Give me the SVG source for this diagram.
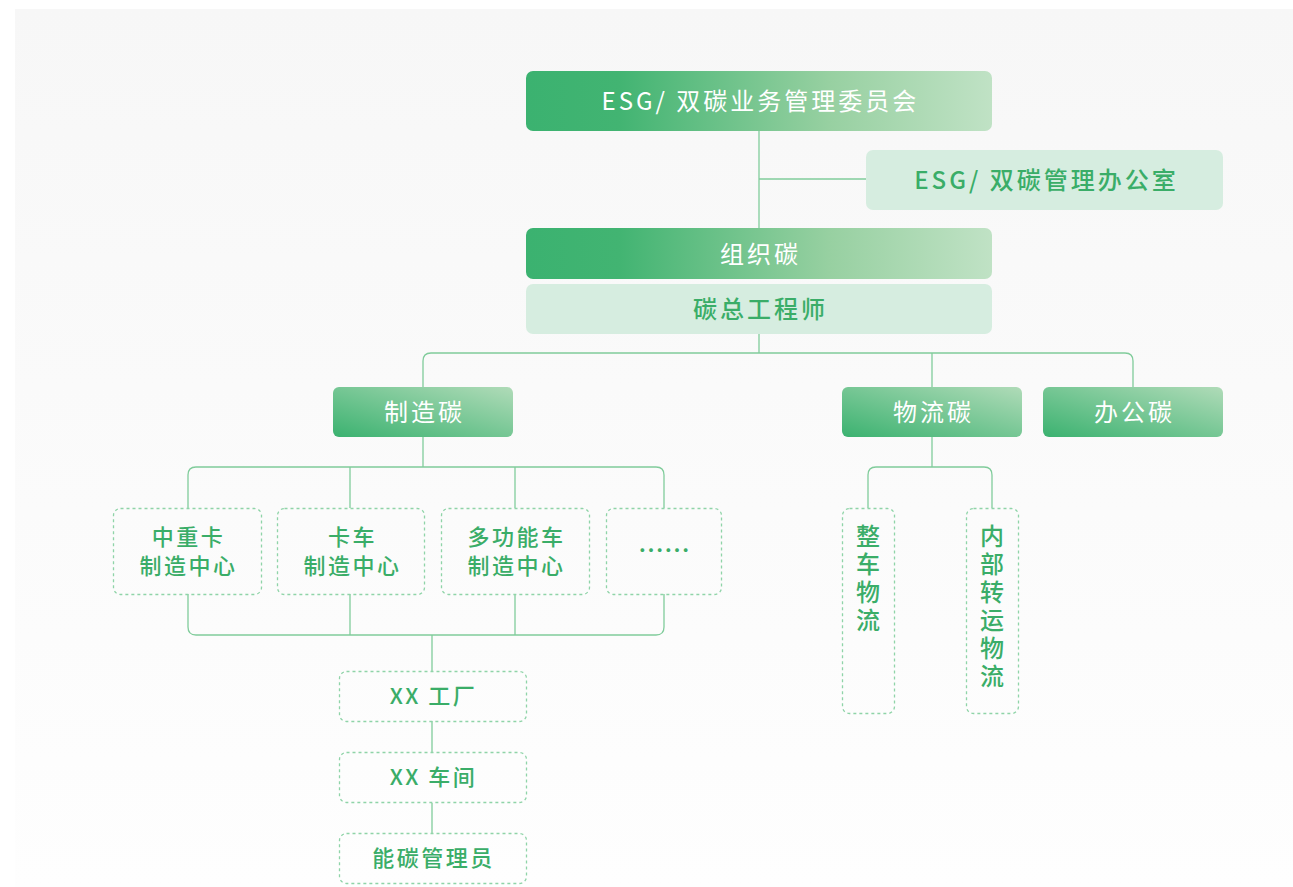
<svg xmlns="http://www.w3.org/2000/svg" width="1293" height="887" viewBox="0 0 1293 887">
<defs>
<linearGradient id="bg" x1="0" y1="0" x2="0" y2="1">
<stop offset="0" stop-color="#f7f7f7"/>
<stop offset="1" stop-color="#fefefe"/>
</linearGradient>
<linearGradient id="gWide" x1="0" y1="0" x2="1" y2="0">
<stop offset="0" stop-color="#3bb270"/>
<stop offset="0.2" stop-color="#42b472"/>
<stop offset="0.65" stop-color="#97d0a1"/>
<stop offset="1" stop-color="#c0e2c5"/>
</linearGradient>
<linearGradient id="gSmall" x1="0" y1="1" x2="1" y2="0">
<stop offset="0" stop-color="#3bb270"/>
<stop offset="1" stop-color="#b0dbb8"/>
</linearGradient>
<style>
.t{font-family:"Noto Sans CJK SC","Noto Sans",sans-serif;dominant-baseline:central;text-anchor:middle}
.w{fill:#ffffff;font-size:24px;letter-spacing:3px}
.g{fill:#3aad68;font-size:24px;letter-spacing:3px;font-weight:500}
.d{fill:#3aad68;font-size:22px;letter-spacing:2.5px;font-weight:500}
.v{font-family:"Noto Sans CJK SC","Noto Sans",sans-serif;fill:#3aad68;font-size:24px;font-weight:500;writing-mode:vertical-rl;text-orientation:upright;letter-spacing:4px;dominant-baseline:central;text-anchor:start}
.light{fill:#d6ede0}
.dash{fill:none;stroke:#8fd4a8;stroke-width:1.3;stroke-dasharray:3 3}
.c{fill:none;stroke:#80cc9b;stroke-width:1.3}
</style>
</defs>
<rect x="15" y="9" width="1278" height="878" fill="url(#bg)"/>

<g id="connectors">
<path class="c" d="M759 131 V228"/>
<path class="c" d="M759 179 H866"/>
<path class="c" d="M759 334 V353"/>
<path class="c" d="M423 387 V361 Q423 353 431 353 H1125 Q1133 353 1133 361 V387"/>
<path class="c" d="M932 353 V387"/>
<path class="c" d="M423 437 V467"/>
<path class="c" d="M188 508 V475 Q188 467 196 467 H656 Q664 467 664 475 V508"/>
<path class="c" d="M350 467 V508"/>
<path class="c" d="M515 467 V508"/>
<path class="c" d="M188 594 V627 Q188 635 196 635 H656 Q664 635 664 627 V594"/>
<path class="c" d="M350 594 V635"/>
<path class="c" d="M515 594 V635"/>
<path class="c" d="M432 635 V671"/>
<path class="c" d="M432 721 V752"/>
<path class="c" d="M432 803 V833"/>
<path class="c" d="M932 437 V467"/>
<path class="c" d="M868 508 V475 Q868 467 876 467 H984 Q992 467 992 475 V508"/>
</g>

<g id="n-committee">
<rect x="526" y="71" width="466" height="60" rx="7" fill="url(#gWide)"/>
<text class="t w" x="760.5" y="99">ESG/ 双碳业务管理委员会</text>
</g>
<g id="n-office">
<rect class="light" x="866" y="150" width="357" height="60" rx="7"/>
<text class="t g" x="1046.5" y="178">ESG/ 双碳管理办公室</text>
</g>
<g id="n-org">
<rect x="526" y="228" width="466" height="51" rx="7" fill="url(#gWide)"/>
<text class="t w" x="760.5" y="252">组织碳</text>
</g>
<g id="n-engineer">
<rect class="light" x="526" y="284" width="466" height="50" rx="7"/>
<text class="t g" x="760.5" y="307">碳总工程师</text>
</g>
<g id="n-mfg">
<rect x="333" y="387" width="180" height="50" rx="6" fill="url(#gSmall)"/>
<text class="t w" x="424.5" y="410">制造碳</text>
</g>
<g id="n-logistics">
<rect x="842" y="387" width="180" height="50" rx="6" fill="url(#gSmall)"/>
<text class="t w" x="933.5" y="410">物流碳</text>
</g>
<g id="n-officecarbon">
<rect x="1043" y="387" width="180" height="50" rx="6" fill="url(#gSmall)"/>
<text class="t w" x="1134.5" y="410">办公碳</text>
</g>

<g id="n-heavy">
<rect class="dash" x="113.5" y="508.5" width="148" height="86" rx="7"/>
<text class="t d" x="188.5" y="535">中重卡</text>
<text class="t d" x="188.5" y="564">制造中心</text>
</g>
<g id="n-truck">
<rect class="dash" x="277.5" y="508.5" width="147" height="86" rx="7"/>
<text class="t d" x="352.5" y="535">卡车</text>
<text class="t d" x="352.5" y="564">制造中心</text>
</g>
<g id="n-multi">
<rect class="dash" x="441.5" y="508.5" width="148" height="86" rx="7"/>
<text class="t d" x="516.5" y="535">多功能车</text>
<text class="t d" x="516.5" y="564">制造中心</text>
</g>
<g id="n-more">
<rect class="dash" x="606.5" y="508.5" width="115" height="86" rx="7"/>
<text class="t d" x="664" y="548" style="letter-spacing:0;font-size:26px">……</text>
</g>

<g id="n-factory">
<rect class="dash" x="339.5" y="671.5" width="187" height="50" rx="7"/>
<text class="t d" x="433.5" y="694">XX 工厂</text>
</g>
<g id="n-workshop">
<rect class="dash" x="339.5" y="752.5" width="187" height="50" rx="7"/>
<text class="t d" x="433.5" y="775">XX 车间</text>
</g>
<g id="n-manager">
<rect class="dash" x="339.5" y="833.5" width="187" height="50" rx="7"/>
<text class="t d" x="433.5" y="856">能碳管理员</text>
</g>

<g id="n-vehicle-logistics">
<rect class="dash" x="842.5" y="508.5" width="52" height="205" rx="7"/>
<text class="v" x="868" y="524">整车物流</text>
</g>
<g id="n-internal-logistics">
<rect class="dash" x="966.5" y="508.5" width="52" height="205" rx="7"/>
<text class="v" x="992" y="524">内部转运物流</text>
</g>
</svg>
